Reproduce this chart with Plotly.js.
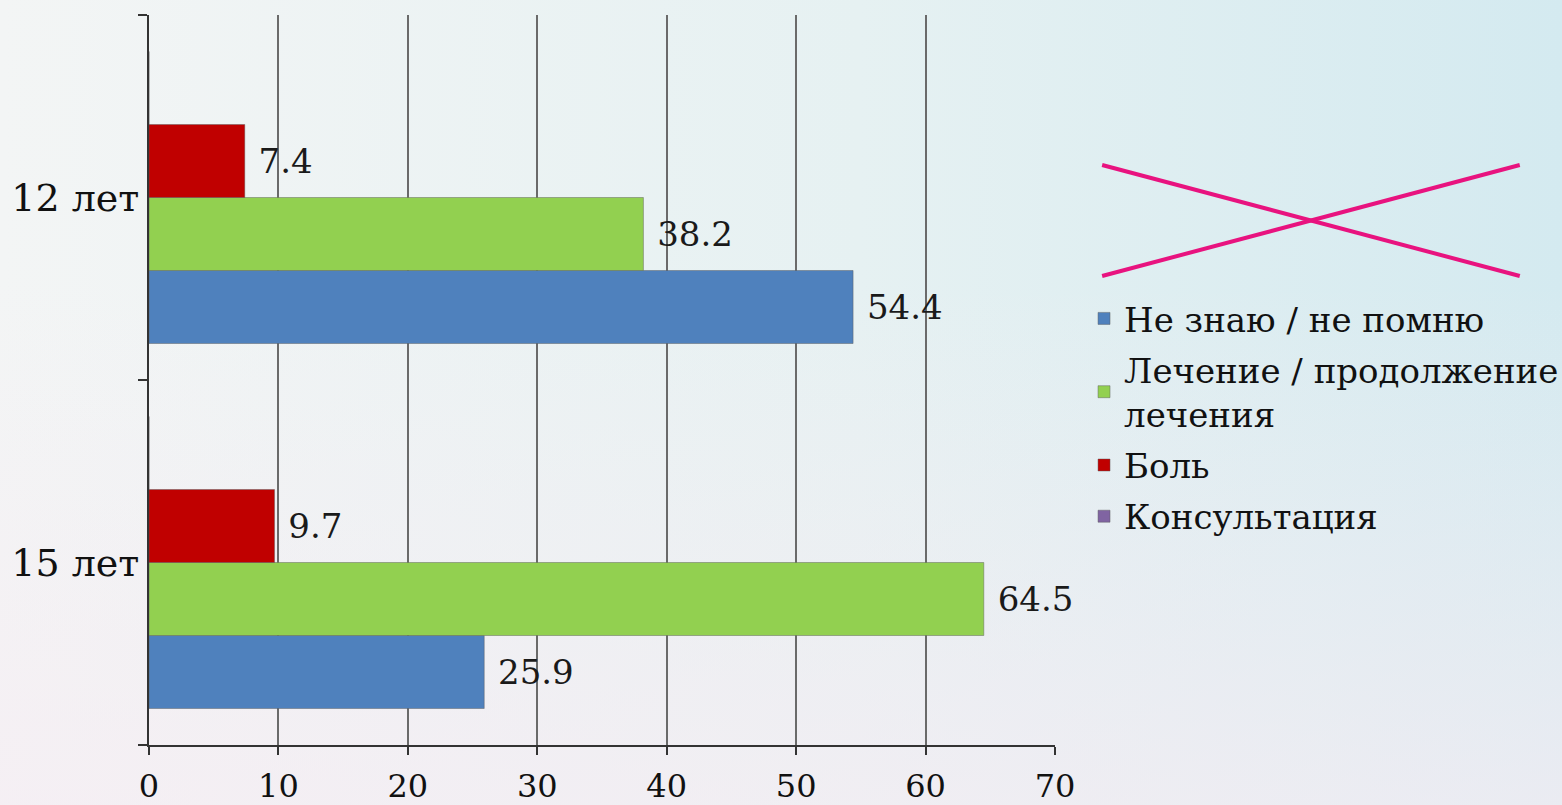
<!DOCTYPE html>
<html>
<head>
<meta charset="utf-8">
<script src="https://cdn.plot.ly/plotly-3.0.1.min.js"></script>
<style>
  html, body { margin: 0; padding: 0; width: 1562px; height: 805px; overflow: hidden; }
  body {
    background:
      linear-gradient(to bottom, rgba(246,236,243,0) 35%, rgba(246,236,243,0.65) 100%),
      linear-gradient(to right, #f3f5f5 0%, #e6f1f2 55%, #d4eaf0 100%);
  }
  #chart { width: 1562px; height: 805px; }
</style>
</head>
<body>
<div id="chart"></div>
<script>
// Data
const categories = ['12 лет', '15 лет'];
const seriesNames = ['Не знаю / не помню', 'Лечение / продолжение<br>лечения', 'Боль', 'Консультация'];
const dontKnow = [54.4, 25.9];
const treatment = [38.2, 64.5];
const pain = [7.4, 9.7];
const consultation = [0, 0];
const xTicks = [0, 10, 20, 30, 40, 50, 60, 70];

const colors = ['#4F81BD', '#92D050', '#C00000', '#8064A2'];
const allValues = [dontKnow, treatment, pain, consultation];
const serif = 'DejaVu Serif';

const traces = allValues.map((vals, i) => ({
  type: 'bar',
  orientation: 'h',
  name: seriesNames[i],
  legendgroup: 'g' + i,
  y: categories,
  x: vals,
  marker: { color: colors[i], line: { color: 'rgba(90,90,90,0.45)', width: 1 } },
  text: i < 3 ? vals.map(v => '\u00a0' + v.toFixed(1)) : undefined,
  textposition: i < 3 ? 'outside' : 'none',
  textfont: { family: serif, size: 34, color: '#1a1a1a' },
  cliponaxis: false,
  hoverinfo: 'x+name'
}));

const layout = {
  width: 1562,
  height: 805,
  margin: { l: 149, r: 507, t: 15, b: 60 },
  paper_bgcolor: 'rgba(0,0,0,0)',
  plot_bgcolor: 'rgba(0,0,0,0)',
  barmode: 'group',
  bargap: 0.2,
  bargroupgap: 0,
  font: { family: serif, color: '#111' },
  xaxis: {
    range: [0, 70],
    tickvals: xTicks,
    ticktext: xTicks.map(String),
    ticks: 'outside',
    ticklen: 8,
    tickwidth: 2,
    tickcolor: '#333',
    ticklabelstandoff: 4,
    showgrid: true,
    gridcolor: '#6a6a6a',
    gridwidth: 2,
    zeroline: false,
    showline: true,
    linecolor: '#333',
    linewidth: 2,
    tickfont: { family: serif, size: 32, color: '#111' },
    fixedrange: true
  },
  yaxis: {
    type: 'category',
    categoryorder: 'array',
    categoryarray: ['15 лет', '12 лет'],
    ticks: 'outside',
    tickson: 'boundaries',
    ticklen: 9,
    tickwidth: 2,
    tickcolor: '#333',
    showgrid: false,
    showline: true,
    linecolor: '#333',
    linewidth: 2,
    tickfont: { family: serif, size: 38, color: '#111' },
    fixedrange: true
  },
  legend: {
    xref: 'container', yref: 'container',
    x: 0.694, y: 0.64,
    xanchor: 'left', yanchor: 'top',
    bgcolor: 'rgba(0,0,0,0)',
    font: { family: serif, size: 34, color: '#111' },
    traceorder: 'grouped',
    itemwidth: 30,
    tracegroupgap: 4
  },
  shapes: [
    { type: 'line', xref: 'paper', yref: 'paper', x0: 1.052, y0: 0.7945, x1: 1.513, y1: 0.6425,
      line: { color: '#E8137F', width: 4 } },
    { type: 'line', xref: 'paper', yref: 'paper', x0: 1.052, y0: 0.6425, x1: 1.513, y1: 0.7945,
      line: { color: '#E8137F', width: 4 } }
  ],
  showlegend: true
};

Plotly.newPlot('chart', traces, layout, { displayModeBar: false, staticPlot: true });
</script>
</body>
</html>
